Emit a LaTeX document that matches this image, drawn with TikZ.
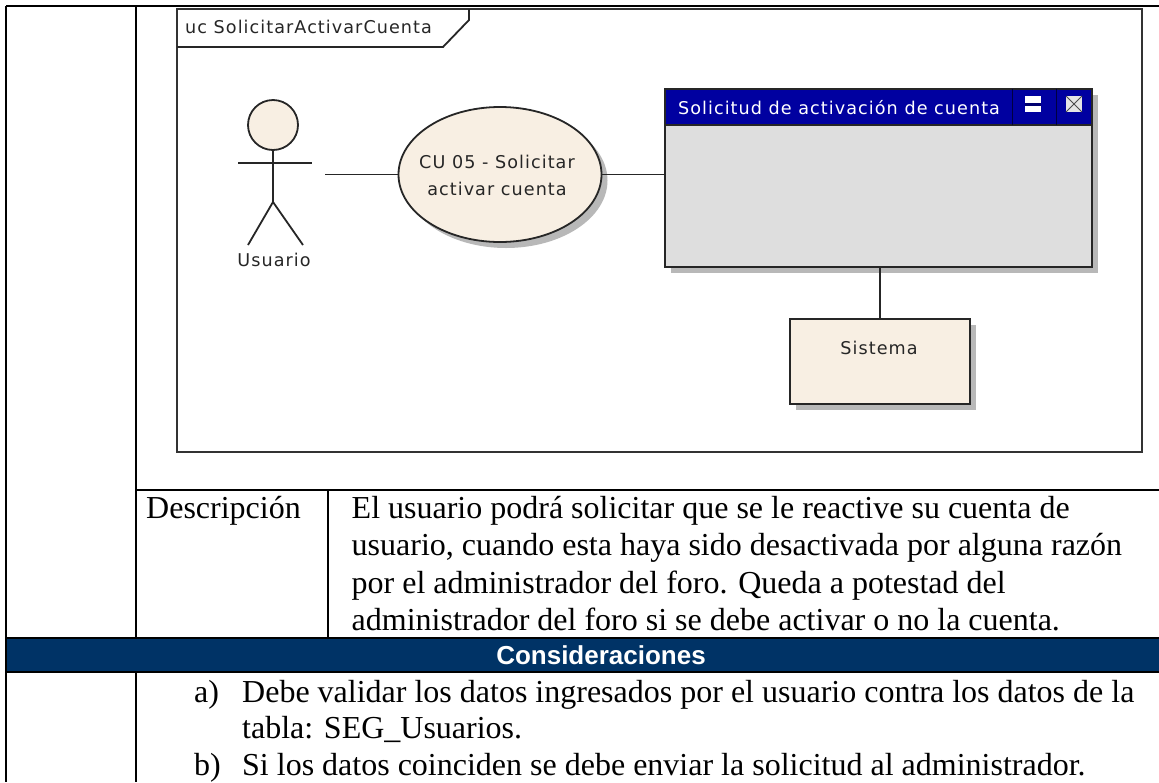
\documentclass[tikz,border=0pt]{standalone}
\usepackage{fontspec}
\setmainfont{Liberation Serif}
\newfontfamily\umlfont[LetterSpace=6]{DejaVu Sans}
\newfontfamily\headfont{Liberation Sans}
\usetikzlibrary{shapes.geometric,shadows}
\definecolor{band}{HTML}{003366}
\definecolor{cream}{HTML}{F8EFE3}
\definecolor{titleblue}{HTML}{0000A0}
\definecolor{winbody}{HTML}{DEDEDE}
\definecolor{shade}{HTML}{B8B8B8}
\definecolor{framec}{HTML}{333333}
\tikzset{
  rule/.style={line width=2.8pt,black},
  uml/.style={line width=1.8pt,draw=black!85},
  shad/.style={drop shadow={shadow xshift=6pt,shadow yshift=-6pt,fill=shade,opacity=1}},
  umltext/.style={font=\umlfont\fontsize{17.6}{27}\selectfont,align=center,inner sep=0pt,text=black!85},
  body/.style={font=\fontsize{32}{36.9}\selectfont,anchor=base west,inner sep=0pt},
  boxn/.style={rectangle,inner sep=0pt,outer sep=0pt},
}
\begin{document}
\begin{tikzpicture}[x=1pt,y=-1pt]
\useasboundingbox (0,0) rectangle (1159,782);
% table
\coordinate (tl) at (6,6);
\coordinate (tr) at (1159,6);
\coordinate (bl) at (6,782);
\coordinate (il) at (136,6);
\coordinate (ib) at (136,782);
\coordinate (dl) at (136,490);
\coordinate (dr) at (1159,490);
\coordinate (cl) at (328,490);
\coordinate (cb) at (328,638);
\coordinate (bal) at (6,638);
\coordinate (bar) at (1159,638);
\coordinate (bbl) at (6,672);
\coordinate (bbr) at (1159,672);
\draw[rule] (tl) -- (tr);
\draw[rule] (tl) -- (bl);
\draw[rule] (il) -- (ib);
\draw[rule] (dl) -- (dr);
\draw[rule] (cl) -- (cb);
\fill[band] (bal) rectangle (bbr);
\draw[rule] (tl |- bal) -- (bar);
\draw[rule] (bbl) -- (bbr);
\draw[rule] (tl |- bal) -- (bbl);
% frame
\node[boxn,draw=framec,line width=2pt,fill=white,minimum width=965pt,minimum height=443pt] (frame) at (659.5,230.5) {};
\coordinate (t1) at (frame.north west |- 0,47);
\coordinate (t2) at (443,47);
\coordinate (t3) at (469,20);
\coordinate (t4) at (469,9);
\draw[uml] (t1) -- (t2) -- (t3) -- (t4);
\node[umltext,anchor=base west] (frametitle) at (185,33) {uc SolicitarActivarCuenta};
% actor
\node[circle,draw=black!85,line width=1.8pt,fill=cream,minimum size=50pt,inner sep=0pt,outer sep=0pt] (head) at (273,125) {};
\coordinate (hip) at (273,202);
\coordinate (armL) at (238,163);
\coordinate (armR) at (312,163);
\coordinate (legL) at (248,245);
\coordinate (legR) at (303,245);
\draw[uml] (head.south) -- (hip);
\draw[uml] (armL) -- (armR);
\draw[uml] (legL) -- (hip) -- (legR);
\node[umltext] (usuario) at (274,260) {Usuario};
% use case
\node[ellipse,draw=black!85,line width=1.8pt,fill=cream,minimum width=203pt,minimum height=135pt,inner sep=0pt,outer sep=0pt,shad] (uc) at (500,174.5) {};
\node[umltext] (uct1) at (497,162) {CU 05 - Solicitar};
\node[umltext] (uct2) at (497,189) {activar cuenta};
% window
\node[boxn,draw=black!85,line width=1.8pt,fill=winbody,minimum width=427pt,minimum height=178pt,shad] (win) at (878.5,178) {};
\node[boxn,draw=black!85,line width=1.2pt,fill=titleblue,minimum width=427pt,minimum height=36pt] (bar) at (878.5,107) {};
\node[umltext,text=white] (wint) at (839,108) {Solicitud de activación de cuenta};
\coordinate (s1a) at (1012,89); \coordinate (s1b) at (1012,125);
\coordinate (s2a) at (1056,89); \coordinate (s2b) at (1056,125);
\draw[line width=0.8pt,black!60!titleblue] (s1a) -- (s1b);
\draw[line width=0.8pt,black!60!titleblue] (s2a) -- (s2b);
\node[boxn,fill=white,minimum width=16pt,minimum height=16pt] (minb) at (1033,104) {};
\fill[titleblue!70!black] (1025,102.5) rectangle (1041,105.5);
\node[boxn,fill=white!90!black,minimum width=16pt,minimum height=16pt] (closeb) at (1074,104) {};
\draw[line width=1pt,black!70] (closeb.north west) -- (closeb.south east);
\draw[line width=1pt,black!70] (closeb.north east) -- (closeb.south west);
% sistema
\node[boxn,draw=black!85,line width=1.8pt,fill=cream,minimum width=180pt,minimum height=85pt,shad] (sys) at (880,361.5) {};
\node[umltext] (syst) at (879,348) {Sistema};
% connectors
\coordinate (alink) at (325,174.5);
\draw[uml] (alink) -- (uc.west);
\draw[uml] (uc.east) -- (uc.east -| win.west);
\draw[uml] (sys.north) -- (sys.north |- win.south);
% table text
\node[body] (d0) at (146,518) {Descripción};
\node[body] (d1) at (351.5,518) {El usuario podrá solicitar que se le reactive su cuenta de};
\node[body] (d2) at (351.5,555) {usuario, cuando esta haya sido desactivada por alguna razón};
\node[body] (d3) at (351.5,593) {por el administrador del foro. Queda a potestad del};
\node[body] (d4) at (351.5,630) {administrador del foro si se debe activar o no la cuenta.};
\node[font=\headfont\bfseries\fontsize{26}{30}\selectfont,text=white,inner sep=0pt] (cons) at (601,655) {Consideraciones};
\node[body] (a0) at (194,702) {a)};
\node[body] (a1) at (242,702) {Debe validar los datos ingresados por el usuario contra los datos de la};
\node[body] (a2) at (242,738) {tabla: SEG\_Usuarios.};
\node[body] (b0) at (194,775) {b)};
\node[body] (b1) at (242,775) {Si los datos coinciden se debe enviar la solicitud al administrador.};
\end{tikzpicture}
\end{document}
